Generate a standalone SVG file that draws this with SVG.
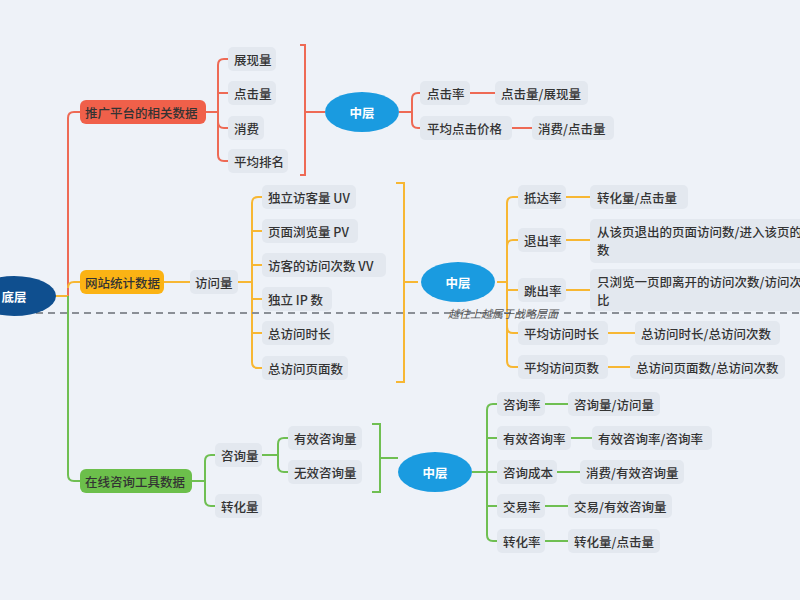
<svg xmlns="http://www.w3.org/2000/svg" width="800" height="600" viewBox="0 0 800 600">
<style>
text{font-family:"Noto Sans CJK SC","Noto Sans",sans-serif;font-size:12.5px;fill:#333;font-weight:500;dominant-baseline:central}
.lb{fill:#e3e8ef}
.w{fill:#fff;font-weight:700;text-anchor:middle}
.r{stroke:#ee6a55;fill:none;stroke-width:2}
.o{stroke:#f7b733;fill:none;stroke-width:2}
.g{stroke:#6fbf52;fill:none;stroke-width:2}
.mid{fill:#1a9be0}
</style>
<rect width="800" height="600" fill="#eef2f8"/>
<g id="connectors">
<path class="r" d="M68 296V118q0-6 6-6h6M205 112h13M218 112V65q0-6 6-6h4M218 93h10M218 112V122q0 6 6 6h4M218 112V155q0 6 6 6h4M300 45h5v130h-5M305 112h20M399 112h13M412 112v-13q0-6 6-6h2M412 112v10q0 6 6 6h2M470 93h25M512 128h20"/>
<path class="o" d="M42 296h26M68 288q0-6 6-6h6M163 282h27M238 282h14M252 282V203q0-6 6-6h4M252 231h10M252 265h10M252 299h10M252 333h10M252 282V362q0 6 6 6h4M396 183h8v199h-8M404 282h14M497 282h10M507 282V203q0-6 6-6h5M507 282V246q0-6 6-6h5M507 290h11M507 282V327q0 6 6 6h5M507 282V361q0 6 6 6h5M566 197h24M566 240h24M566 290h24M608 333h27M608 367h22"/>
<path class="g" d="M68 296V475q0 6 6 6h6M192 481h13M205 481V461q0-6 6-6h4M205 481V500q0 6 6 6h4M262 455h16M278 455V444q0-6 6-6h4M278 455V466q0 6 6 6h4M372 424h8v68h-8M380 458h18M472 472h15M487 472V410q0-6 6-6h4M487 438h10M487 472h10M487 506h10M487 472V535q0 6 6 6h4M545 404h23M571 438h21M557 472h23M545 506h23M545 541h23"/>
<path d="M0 313H800" stroke="#8a8f96" stroke-width="2" stroke-dasharray="7 5"/>
</g>
<g id="root"><ellipse cx="14" cy="296" rx="42" ry="20" fill="#0f4f8f"/><text class="w" x="14" y="296">底层</text></g>
<g id="n1"><rect x="80" y="100" width="126" height="24" rx="6" fill="#f0604a"/><text x="85" y="112">推广平台的相关数据</text></g>
<g id="n2"><rect x="80" y="270" width="84" height="24" rx="6" fill="#fbb314"/><text x="85" y="282">网站统计数据</text></g>
<g id="n3"><rect x="80" y="469" width="112" height="24" rx="6" fill="#6cbf4b"/><text x="85" y="481">在线咨询工具数据</text></g>
<g id="m1"><ellipse class="mid" cx="362" cy="112" rx="37" ry="20"/><text class="w" x="362" y="112">中层</text></g>
<g id="m2"><ellipse class="mid" cx="458" cy="282" rx="37" ry="20"/><text class="w" x="458" y="282">中层</text></g>
<g id="m3"><ellipse class="mid" cx="435" cy="472" rx="37" ry="20"/><text class="w" x="435" y="472">中层</text></g>
<g id="labels">
<rect class="lb" x="228" y="47" width="48" height="24" rx="5"/><text x="234" y="59">展现量</text>
<rect class="lb" x="228" y="81" width="48" height="24" rx="5"/><text x="234" y="93">点击量</text>
<rect class="lb" x="228" y="116" width="36" height="24" rx="5"/><text x="234" y="128">消费</text>
<rect class="lb" x="228" y="149" width="60" height="24" rx="5"/><text x="234" y="161">平均排名</text>
<rect class="lb" x="420" y="81" width="50" height="24" rx="5"/><text x="427" y="93">点击率</text>
<rect class="lb" x="420" y="116" width="92" height="24" rx="5"/><text x="427" y="128">平均点击价格</text>
<rect class="lb" x="495" y="81" width="93" height="24" rx="5"/><text x="501" y="93">点击量/展现量</text>
<rect class="lb" x="532" y="116" width="82" height="24" rx="5"/><text x="538" y="128">消费/点击量</text>
<rect class="lb" x="190" y="270" width="48" height="24" rx="5"/><text x="195" y="282">访问量</text>
<rect class="lb" x="262" y="185" width="94" height="24" rx="5"/><text x="268" y="197">独立访客量 UV</text>
<rect class="lb" x="262" y="219" width="96" height="24" rx="5"/><text x="268" y="231">页面浏览量 PV</text>
<rect class="lb" x="262" y="253" width="124" height="24" rx="5"/><text x="268" y="265">访客的访问次数 VV</text>
<rect class="lb" x="262" y="287" width="70" height="24" rx="5"/><text x="268" y="299">独立 IP 数</text>
<rect class="lb" x="262" y="321" width="72" height="24" rx="5"/><text x="268" y="333">总访问时长</text>
<rect class="lb" x="262" y="356" width="86" height="24" rx="5"/><text x="268" y="368">总访问页面数</text>
<rect class="lb" x="518" y="185" width="48" height="24" rx="5"/><text x="524" y="197">抵达率</text>
<rect class="lb" x="518" y="228" width="48" height="24" rx="5"/><text x="524" y="240">退出率</text>
<rect class="lb" x="518" y="278" width="48" height="24" rx="5"/><text x="524" y="290">跳出率</text>
<rect class="lb" x="518" y="321" width="90" height="24" rx="5"/><text x="524" y="333">平均访问时长</text>
<rect class="lb" x="518" y="355" width="90" height="24" rx="5"/><text x="524" y="367">平均访问页数</text>
<rect class="lb" x="590" y="185" width="98" height="24" rx="5"/><text x="597" y="197">转化量/点击量</text>
<rect class="lb" x="590" y="219" width="215" height="44" rx="5"/><text x="597" y="231">从该页退出的页面访问数/进入该页的</text><text x="597" y="249">数</text>
<rect class="lb" x="590" y="269" width="215" height="42" rx="5"/><text x="597" y="281">只浏览一页即离开的访问次数/访问次</text><text x="597" y="299">比</text>
<rect class="lb" x="635" y="321" width="145" height="24" rx="5"/><text x="641" y="333">总访问时长/总访问次数</text>
<rect class="lb" x="630" y="355" width="155" height="24" rx="5"/><text x="636" y="367">总访问页面数/总访问次数</text>
<rect class="lb" x="215" y="443" width="47" height="24" rx="5"/><text x="221" y="455">咨询量</text>
<rect class="lb" x="215" y="494" width="47" height="24" rx="5"/><text x="221" y="506">转化量</text>
<rect class="lb" x="288" y="426" width="74" height="24" rx="5"/><text x="294" y="438">有效咨询量</text>
<rect class="lb" x="288" y="460" width="74" height="24" rx="5"/><text x="294" y="472">无效咨询量</text>
<rect class="lb" x="497" y="392" width="48" height="24" rx="5"/><text x="503" y="404">咨询率</text>
<rect class="lb" x="497" y="426" width="74" height="24" rx="5"/><text x="503" y="438">有效咨询率</text>
<rect class="lb" x="497" y="460" width="60" height="24" rx="5"/><text x="503" y="472">咨询成本</text>
<rect class="lb" x="497" y="494" width="48" height="24" rx="5"/><text x="503" y="506">交易率</text>
<rect class="lb" x="497" y="529" width="48" height="24" rx="5"/><text x="503" y="541">转化率</text>
<rect class="lb" x="568" y="392" width="92" height="24" rx="5"/><text x="574" y="404">咨询量/访问量</text>
<rect class="lb" x="592" y="426" width="120" height="24" rx="5"/><text x="598" y="438">有效咨询率/咨询率</text>
<rect class="lb" x="580" y="460" width="104" height="24" rx="5"/><text x="586" y="472">消费/有效咨询量</text>
<rect class="lb" x="568" y="494" width="104" height="24" rx="5"/><text x="574" y="506">交易/有效咨询量</text>
<rect class="lb" x="568" y="529" width="92" height="24" rx="5"/><text x="574" y="541">转化量/点击量</text>
<text x="448" y="313" style="font-size:11px;font-style:italic;fill:#555;font-weight:400">越往上越属于战略层面</text>
</g>
</svg>
